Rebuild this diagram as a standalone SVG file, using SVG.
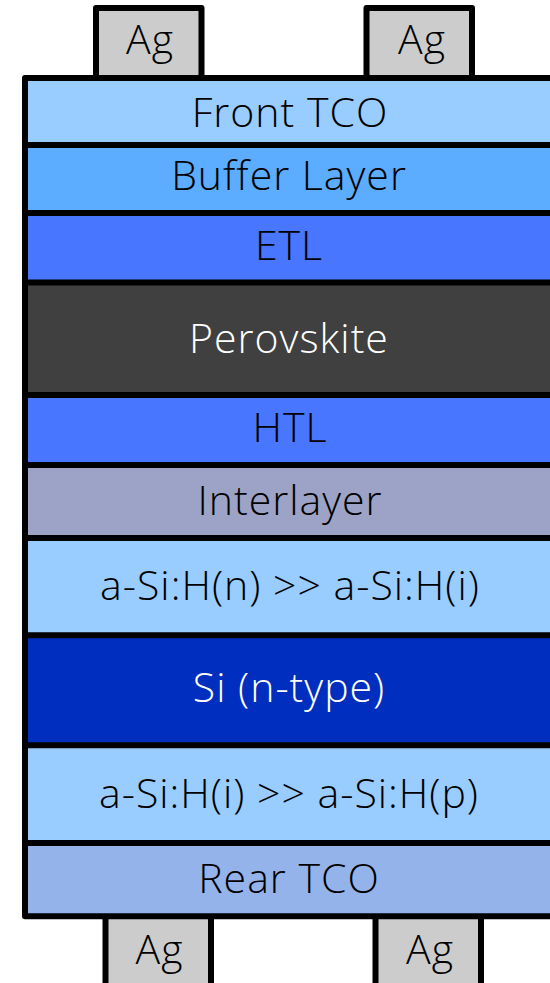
<svg xmlns="http://www.w3.org/2000/svg" width="550" height="983" viewBox="0 0 550 983">
  <style>
    .edge { stroke: #000; stroke-width: 6; stroke-linejoin: round; }
    .lbl { font-family: "Open Sans", "Liberation Sans", sans-serif; font-weight: 300; font-size: 41px; letter-spacing: 1px; text-anchor: middle; fill: #000; }
    .lbl.light { fill: #fff; }
    .ag { fill: #cccccc; }
  </style>
  <rect width="550" height="983" fill="#fff"/>

  <!-- silver contacts -->
  <g id="ag-top-left">
    <rect class="ag edge" x="96" y="8" width="105.5" height="80"/>
    <text class="lbl" x="150" y="54">Ag</text>
  </g>
  <g id="ag-top-right">
    <rect class="ag edge" x="366.5" y="8" width="105.5" height="80"/>
    <text class="lbl" x="422" y="54">Ag</text>
  </g>
  <g id="ag-bottom-left">
    <rect class="ag edge" x="105.5" y="906" width="105.5" height="90"/>
    <text class="lbl" x="159.5" y="964">Ag</text>
  </g>
  <g id="ag-bottom-right">
    <rect class="ag edge" x="375.5" y="906" width="105.5" height="90"/>
    <text class="lbl" x="430" y="964">Ag</text>
  </g>

  <!-- layer stack -->
  <g id="front-tco">
    <rect x="25" y="78" width="530" height="67" fill="#99ccff"/>
    <text class="lbl" x="290" y="127">Front TCO</text>
  </g>
  <g id="buffer-layer">
    <rect x="25" y="145" width="530" height="68" fill="#5cadff"/>
    <text class="lbl" x="289" y="190">Buffer Layer</text>
  </g>
  <g id="etl">
    <rect x="25" y="213" width="530" height="69.5" fill="#4876ff"/>
    <text class="lbl" x="289" y="260">ETL</text>
  </g>
  <g id="perovskite">
    <rect x="25" y="282.5" width="530" height="112.5" fill="#404040"/>
    <text class="lbl light" x="289" y="353">Perovskite</text>
  </g>
  <g id="htl">
    <rect x="25" y="395" width="530" height="70" fill="#4876ff"/>
    <text class="lbl" x="290" y="442">HTL</text>
  </g>
  <g id="interlayer">
    <rect x="25" y="465" width="530" height="73" fill="#9da3c6"/>
    <text class="lbl" x="290" y="515">Interlayer</text>
  </g>
  <g id="asi-n-i">
    <rect x="25" y="538" width="530" height="97.3" fill="#99ccff"/>
    <text class="lbl" x="290" y="600">a-Si:H(n) &gt;&gt; a-Si:H(i)</text>
  </g>
  <g id="si-n-type">
    <rect x="25" y="635.3" width="530" height="110" fill="#002ebe"/>
    <text class="lbl light" x="289" y="702">Si (n-type)</text>
  </g>
  <g id="asi-i-p">
    <rect x="25" y="745.3" width="530" height="97.7" fill="#99ccff"/>
    <text class="lbl" x="289" y="808">a-Si:H(i) &gt;&gt; a-Si:H(p)</text>
  </g>
  <g id="rear-tco">
    <rect x="25" y="843" width="530" height="73.3" fill="#95b3eb"/>
    <text class="lbl" x="289" y="893">Rear TCO</text>
  </g>

  <!-- layer boundaries and outline -->
  <g id="connectors" fill="none">
    <path class="edge" d="M25 145H560M25 213H560M25 282.5H560M25 395H560M25 465H560M25 538H560M25 635.3H560M25 745.3H560M25 843H560"/>
    <rect class="edge" x="25" y="78" width="528" height="838.3"/>
  </g>
</svg>
